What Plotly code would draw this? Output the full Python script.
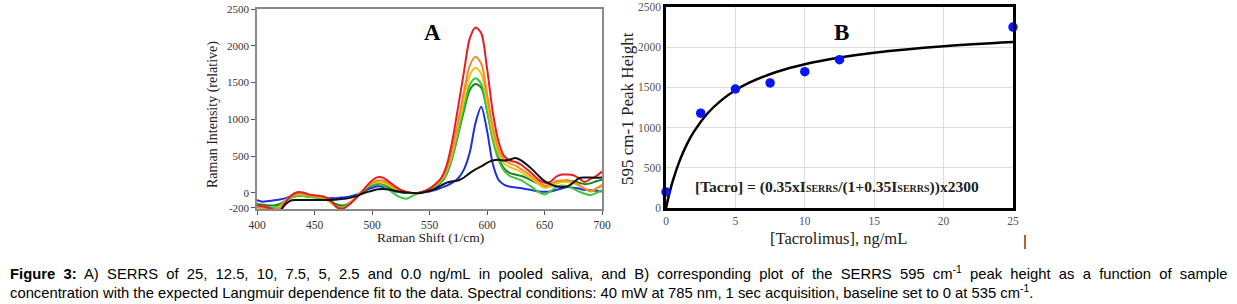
import plotly.graph_objects as go

# ---------------- Panel A data: SERRS spectra ----------------
shift = list(range(400, 705, 5))

conc_labels = ["25", "12.5", "10", "7.5", "5", "2.5", "0.0"]

spec_25 = [-170, -180, -200, -230, -240, -120, -30, 10, 5, -20, -30, -40, -60, -120, -200, -210, -160, -90, -10, 90,
           170, 215, 205, 150, 90, 40, 15, 0, 0, 20, 60, 120, 200, 380, 720, 1180, 1650, 2100, 2250, 2170,
           1700, 1100, 700, 500, 440, 420, 380, 320, 250, 180, 140, 150, 220, 250, 250, 240, 200, 150, 190, 230, 290]
spec_12_5 = [-190, -200, -210, -220, -200, -110, -40, -10, -10, -30, -40, -50, -70, -130, -200, -210, -160, -80, 0, 80,
             140, 170, 165, 120, 70, 30, 10, 0, 0, 20, 60, 110, 180, 330, 600, 980, 1380, 1730, 1850, 1760,
             1350, 900, 600, 450, 400, 370, 320, 270, 210, 150, 100, 120, 160, 170, 170, 150, 110, 60, 20, 60, 110]
spec_10 = [-200, -210, -220, -220, -190, -100, -40, -20, -20, -35, -45, -55, -80, -140, -200, -200, -150, -70, 10, 80,
           130, 150, 140, 100, 60, 30, 10, 0, 0, 20, 60, 110, 170, 310, 560, 920, 1280, 1600, 1700, 1620,
           1250, 820, 540, 400, 350, 320, 280, 230, 180, 120, 70, 90, 130, 150, 150, 130, 100, 60, 30, 60, 90]
spec_7_5 = [-170, -180, -190, -200, -170, -110, -60, -40, -40, -50, -60, -70, -90, -140, -190, -190, -150, -80, 0, 70,
            110, 130, 100, 40, -20, -60, -80, -40, 0, 20, 50, 90, 150, 270, 500, 830, 1170, 1470, 1560, 1480,
            1130, 720, 450, 300, 230, 200, 170, 120, 70, 10, -20, 20, 80, 100, 90, 60, 20, -10, -30, 0, 40]
spec_5 = [-150, -160, -170, -170, -150, -100, -60, -40, -40, -50, -60, -70, -90, -120, -160, -170, -140, -80, 0, 60,
          100, 120, 110, 70, 30, 10, 0, 0, 0, 20, 50, 90, 140, 260, 490, 800, 1120, 1400, 1480, 1430,
          1120, 740, 480, 330, 270, 250, 230, 200, 160, 120, 80, 90, 130, 160, 170, 160, 140, 120, 130, 160, 180]
spec_2_5 = [-100, -120, -110, -100, -90, -70, -40, -20, -30, -40, -50, -60, -70, -70, -70, -60, -50, -30, 0, 40,
            70, 90, 80, 50, 20, 10, 0, 0, 0, 10, 20, 40, 70, 100, 140, 200, 320, 550, 950, 1170,
            850, 400, 180, 110, 85, 75, 65, 50, 35, 20, 15, 20, 40, 60, 80, 70, 60, 40, 40, 30, 20]
spec_0 = [-400, -380, -350, -300, -240, -150, -100, -95, -95, -95, -95, -95, -95, -95, -90, -80, -70, -50, -20, 10,
          30, 50, 55, 45, 30, 15, 5, 0, -5, 10, 30, 60, 100, 140, 160, 170, 210, 270, 320, 360,
          410, 440, 450, 440, 455, 475, 440, 380, 310, 230, 160, 120, 90, 80, 90, 140, 200, 210, 210, 205, 210]

spectra = [spec_2_5, spec_5, spec_7_5, spec_10, spec_12_5, spec_25, spec_0]
spec_names = ["2.5", "5", "7.5", "10", "12.5", "25", "0.0"]
spec_colors = ["#1f2fe0", "#17851f", "#3cc83c", "#f2c40c", "#f08a2c", "#e61e22", "#111111"]

# ---------------- Panel B data: peak height vs concentration ----------------
tacro_conc = [0, 2.5, 5, 7.5, 10, 12.5, 25]
peak_height = [200, 1180, 1480, 1555, 1695, 1845, 2250]

fit_x = [0, 0.25, 0.5, 1, 1.5, 2, 3, 4, 5, 6, 8, 10, 12.5, 15, 20, 25]
fit_y = [0, 185, 343, 596, 792, 947, 1178, 1342, 1464, 1558, 1695, 1789, 1872, 1932, 2012, 2064]

W, H = 1237, 304
fig = go.Figure()

for ys, nm, col in zip(spectra, spec_names, spec_colors):
    fig.add_trace(go.Scatter(x=shift, y=ys, mode="lines", name=nm,
                             line=dict(color=col, width=2, shape="spline", smoothing=0.8),
                             xaxis="x", yaxis="y", showlegend=False))

fig.add_trace(go.Scatter(x=fit_x, y=fit_y, mode="lines", line=dict(color="black", width=2.5, shape="spline"),
                         xaxis="x2", yaxis="y2", showlegend=False))
fig.add_trace(go.Scatter(x=tacro_conc, y=peak_height, mode="markers",
                         marker=dict(color="#0a14f5", size=9.5), cliponaxis=False,
                         xaxis="x2", yaxis="y2", showlegend=False))

def px2x(p):
    return min(1.0, max(0.0, p / W))

def px2y(p):
    return min(1.0, max(0.0, 1 - p / H))

serif = "Liberation Serif"
sans = "Liberation Sans"

fig.update_layout(
    width=W, height=H,
    margin=dict(l=0, r=0, t=0, b=0, autoexpand=False),
    paper_bgcolor="white", plot_bgcolor="white",
    xaxis=dict(domain=[px2x(257), px2x(602)], range=[400, 700], anchor="y", automargin=False,
               tickvals=[400, 450, 500, 550, 600, 650, 700],
               ticks="outside", ticklen=4, tickcolor="#555", tickwidth=1,
               showgrid=False, zeroline=False,
               showline=True, linecolor="#8a8a8a", linewidth=1.5, mirror=True,
               tickfont=dict(family=serif, size=11.5, color="#333")),
    yaxis=dict(domain=[px2y(209), px2y(9)], range=[-218, 2500], anchor="x", automargin=False,
               tickvals=[-200, 0, 500, 1000, 1500, 2000, 2500],
               ticktext=["-200", "0", "500", "1000", "1500", "2000", "2500"],
               ticks="outside", ticklen=4, tickcolor="#555", tickwidth=1,
               showgrid=False, zeroline=False,
               showline=True, linecolor="#8a8a8a", linewidth=1.5, mirror=True,
               tickfont=dict(family=serif, size=11, color="#333")),
    xaxis2=dict(domain=[px2x(666), px2x(1013)], range=[0, 25], anchor="y2", automargin=False,
                tickvals=[0, 5, 10, 15, 20, 25], ticks="",
                showgrid=True, gridcolor="#dedede", gridwidth=1, zeroline=False,
                showline=True, linecolor="black", linewidth=2.5, mirror=True,
                tickfont=dict(family=serif, size=11.5, color="#555")),
    yaxis2=dict(domain=[px2y(208), px2y(7)], range=[0, 2500], anchor="x2", automargin=False,
                tickvals=[0, 500, 1000, 1500, 2000, 2500], ticks="",
                showgrid=True, gridcolor="#dedede", gridwidth=1, zeroline=False,
                showline=True, linecolor="black", linewidth=2.5, mirror=True,
                tickfont=dict(family=serif, size=11.5, color="#555")),
)

line1 = ("Figure 3: A) SERRS of 25, 12.5, 10, 7.5, 5, 2.5 and 0.0 ng/mL in pooled saliva, and B) corresponding plot of the "
         "SERRS 595 cm<sup>-1</sup> peak height as a function of sample")
line1 = line1.replace(" ", "\u00a0 ").replace("Figure\u00a0 3:", "<b>Figure\u00a0 3:</b>", 1)
line2 = ("concentration with the expected Langmuir dependence fit to the data. Spectral conditions: 40 mW at 785 nm, "
         "1 sec acquisition, baseline set to 0 at 535 cm<sup>-1</sup>.")

annos = [
    dict(x=px2x(432), y=px2y(32), text="<b>A</b>", font=dict(family=serif, size=23, color="black")),
    dict(x=px2x(841), y=px2y(32), text="<b>B</b>", font=dict(family=serif, size=23, color="black")),
    dict(x=px2x(213), y=px2y(114), text="Raman Intensity (relative)", textangle=-90,
         font=dict(family=serif, size=14, color="#222")),
    dict(x=px2x(430), y=px2y(237), text="Raman Shift (1/cm)", font=dict(family=serif, size=13.5, color="#222")),
    dict(x=px2x(627), y=px2y(109), text="595 cm-1 Peak Height", textangle=-90,
         font=dict(family=serif, size=17, color="#222")),
    dict(x=px2x(838), y=px2y(238), text="[Tacrolimus], ng/mL", font=dict(family=serif, size=16.5, color="#222")),
    dict(x=px2x(837), y=px2y(187),
         text="<b>[Tacro] = (0.35xI<span style='font-size:10px'>SERRS</span>/(1+0.35I<span style='font-size:10px'>SERRS</span>))x2300</b>",
         font=dict(family=serif, size=15.5, color="#222")),
    dict(x=px2x(1025), y=px2y(240), text="|", font=dict(family=sans, size=15, color="#222")),
    dict(x=px2x(8), y=px2y(273), xanchor="left", text=line1,
         font=dict(family=sans, size=14.8, color="black")),
    dict(x=px2x(8), y=px2y(292), xanchor="left", text=line2,
         font=dict(family=sans, size=14.8, color="black")),
]
for a in annos:
    a.setdefault("xanchor", "center")
    a.update(xref="paper", yref="paper", yanchor="middle", showarrow=False)
fig.update_layout(annotations=annos)

# remove the browser's default 8px body margin so the figure fills the window exactly
fig.write_html("out.html", config={"displayModeBar": False},
               post_script="document.body.style.margin='0';document.body.style.overflow='hidden';")
